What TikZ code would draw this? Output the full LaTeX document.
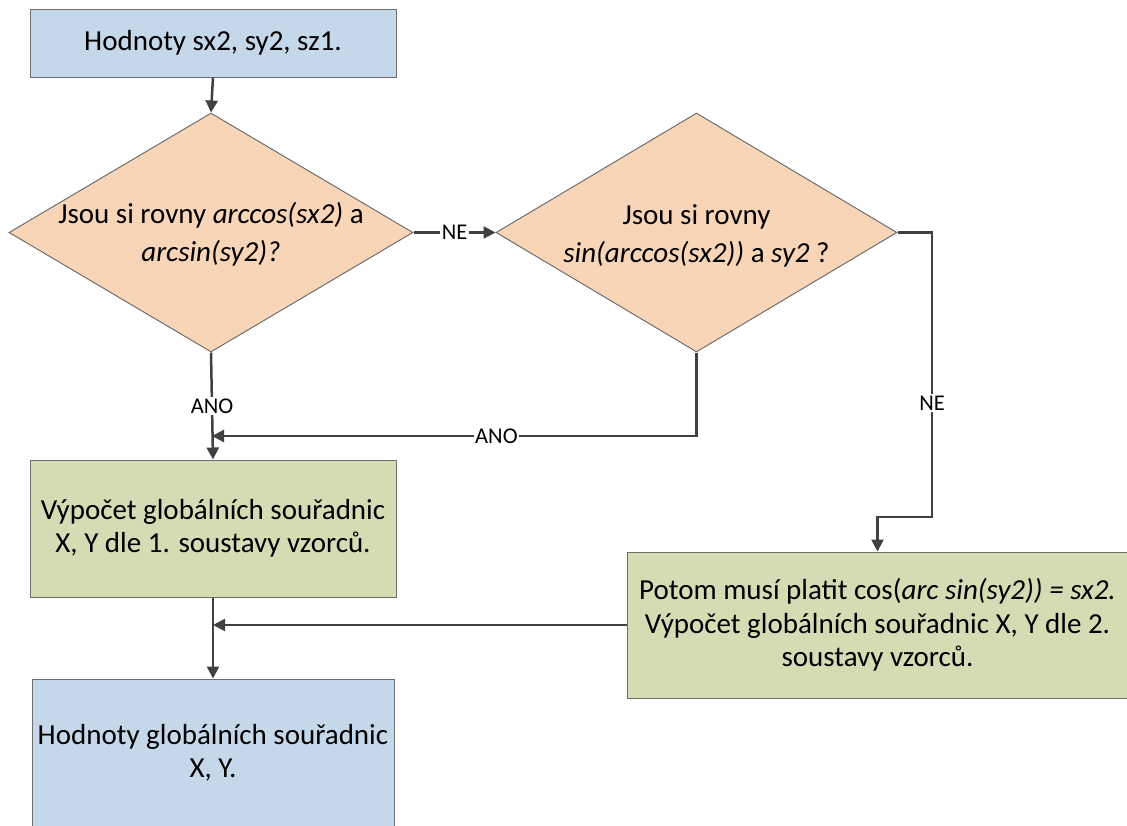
\documentclass[tikz,border=0pt]{standalone}
\usepackage{fontspec}
\setmainfont{Carlito}
\usetikzlibrary{arrows.meta,shapes.geometric}
\definecolor{bluef}{HTML}{C5D8E9}
\definecolor{orangef}{HTML}{F8D5B6}
\definecolor{greenf}{HTML}{D5DCB4}
\definecolor{edgec}{HTML}{6E6E6E}
\definecolor{linec}{HTML}{404040}
\begin{document}
\begin{tikzpicture}[x=1pt,y=-1pt,
  boxst/.style={draw=edgec, line width=1pt, inner sep=0pt, align=center,
    font=\fontsize{29}{33.5}\selectfont},
  diam/.style={diamond, draw=edgec, line width=1pt, fill=orangef, inner sep=0pt},
  dtext/.style={inner sep=0pt, align=center, font=\fontsize{29}{37.5}\selectfont},
  conn/.style={draw=linec, line width=2.5pt, -{Triangle[length=12pt,width=12pt]}},
  lbl/.style={fill=white, inner sep=1.5pt, font=\fontsize{22.5}{26}\selectfont}
]
\useasboundingbox (0,0) rectangle (1127,825);

\node[boxst, fill=bluef, minimum width=366pt, minimum height=68pt] (top) at (213,43) {Hodnoty sx2, sy2, sz1.};

\node[diam, minimum width=404pt, minimum height=239pt] (d1) at (211,232.5) {};
\node[dtext] (t1) at (211,234) {Jsou si rovny \textit{arccos(sx2)} a\\\textit{arcsin(sy2)?}};

\node[diam, minimum width=401pt, minimum height=239pt] (d2) at (696.5,232.5) {};
\node[dtext] (t2) at (696.5,236) {Jsou si rovny\\\textit{sin(arccos(sx2))} a \textit{sy2} ?};

\node[boxst, fill=greenf, minimum width=366pt, minimum height=137pt] (b1) at (213,528.5) {Výpočet globálních souřadnic\\X, Y dle 1. soustavy vzorců.};

\node[boxst, fill=greenf, minimum width=501pt, minimum height=146pt] (b2) at (877.5,625) {Potom musí platit cos(\textit{arc sin(sy2)) = sx2.}\\Výpočet globálních souřadnic X, Y dle 2.\\soustavy vzorců.};

\node[boxst, fill=bluef, minimum width=362pt, minimum height=148pt] (b3) at (213,753) {Hodnoty globálních souřadnic\\X, Y.};

\coordinate (j1) at (212,436);
\coordinate (c1) at (696.5,436);
\coordinate (c2a) at (932,232.5);
\coordinate (c2b) at (932,517);
\coordinate (c2c) at (877.5,517);
\coordinate (j2) at (213,625);

\draw[conn] (top.south) -- (d1.north);
\draw[conn] (d1.east) -- node[lbl] {NE} (d2.west);
\draw[conn] (d1.south) -- node[lbl] {ANO} (b1.north);
\draw[conn] (d2.south) -- (c1) -- node[lbl, pos=0.413] {ANO} (j1);
\draw[conn] (d2.east) -- (c2a) -- node[lbl, pos=0.6] {NE} (c2b) -- (c2c) -- (b2.north);
\draw[conn] (b2.west) -- (j2);
\draw[conn] (b1.south) -- (b3.north);
\end{tikzpicture}
\end{document}
